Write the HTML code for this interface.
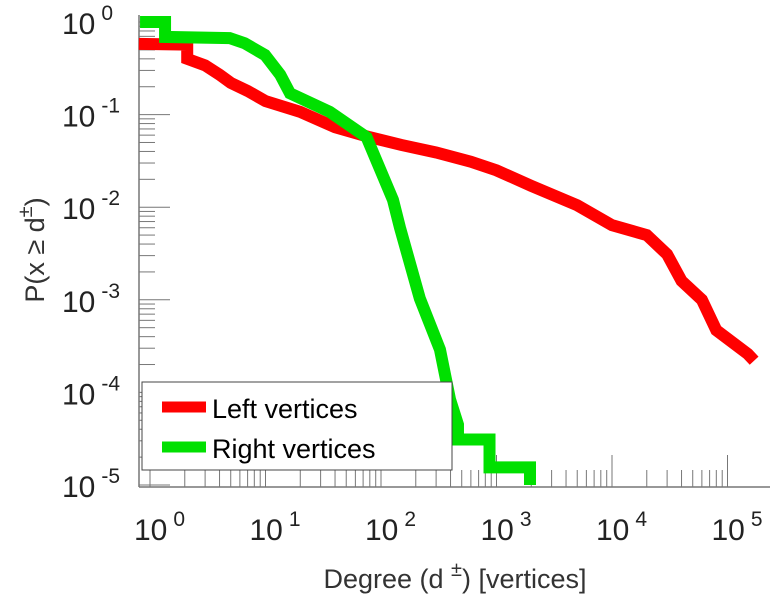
<!DOCTYPE html>
<html><head><meta charset="utf-8"><style>
body{margin:0;background:#fff;}
svg{display:block;font-family:"Liberation Sans",sans-serif;}
</style></head><body>
<svg id="chart" width="778" height="600" viewBox="0 0 778 600" xmlns="http://www.w3.org/2000/svg">
<g id="axes"></g>
<g id="series"></g>
<g id="legend">
  <rect x="142" y="382" width="310" height="88" fill="#fff" stroke="#444" stroke-width="1"/>
  <line x1="162" y1="407" x2="206" y2="407" stroke="#ff0000" stroke-width="11"/>
  <text x="212" y="418" font-size="27" fill="#000">Left vertices</text>
  <line x1="162" y1="447" x2="206" y2="447" stroke="#00e000" stroke-width="11"/>
  <text x="212" y="458" font-size="27" fill="#000">Right vertices</text>
</g>
<text x="455" y="588" font-size="27" text-anchor="middle" fill="#333">Degree (d <tspan dy="-12" font-size="20">±</tspan><tspan dy="12">) [vertices]</tspan></text>
<text transform="translate(44,250) rotate(-90)" font-size="27" text-anchor="middle" fill="#333">P(x ≥ d<tspan dy="-12" font-size="20">±</tspan><tspan dy="12">)</tspan></text>
</svg>
<script>
const xDecades=[0,1,2,3,4,5];
const yDecades=[0,-1,-2,-3,-4,-5];
const leftDeg=[0.8,2.1,2.1,3,4,5,7,10,20,40,80,150,300,600,1000,2000,5000,10000,20000,30000,40000,60000,80000,150000,170000];
const leftP=[0.58,0.57,0.40,0.34,0.27,0.22,0.18,0.14,0.107,0.073,0.057,0.047,0.039,0.031,0.025,0.017,0.0105,0.0064,0.005,0.0031,0.0016,0.001,0.00047,0.00026,0.00022];
const rightDeg=[0.82,1.35,1.35,4.9,6.6,9.9,13.4,16.3,36,75,127,146,217,324,396,464,464,870,870,1950,1950];
const rightP=[1,1,0.69,0.67,0.59,0.44,0.27,0.17,0.107,0.057,0.012,0.0060,0.00103,0.00029,0.000084,0.000045,0.000031,0.000031,0.0000155,0.0000155,0.00001];
const NS="http://www.w3.org/2000/svg";
function xs(d){return 150+115.5*Math.log10(d);}
function ys(p){return 22-92.6*Math.log10(p);}
const axes=document.getElementById('axes');
function mk(tag,attrs,parent){const e=document.createElementNS(NS,tag);for(const k in attrs)e.setAttribute(k,attrs[k]);parent.appendChild(e);return e;}
const yl=mk('line',{x1:139,y1:15,x2:139,y2:487,stroke:'#777','stroke-width':1.5},axes);


const xl=mk('line',{x1:139,y1:487,x2:770,y2:487,stroke:'#777','stroke-width':1.5},axes);


yDecades.forEach(e=>{
  const y=ys(Math.pow(10,e));
  const t=mk('line',{x1:139,y1:y,x2:170,y2:y,stroke:'#777','stroke-width':1},axes);
  
  
  if(e>-5){for(let m=2;m<10;m++){const ym=ys(m*Math.pow(10,e-1));const mt=mk('line',{x1:139,y1:ym,x2:155,y2:ym,stroke:'#777','stroke-width':1},axes);
    
    }}
  const tx=mk('text',{x:62,y:y+12,'font-size':30,fill:'#222'},axes);
  
  
  tx.textContent='10';
  const sp=mk('tspan',{dx:6,dy:-14,'font-size':21},tx);sp.textContent=e===0?'0':'-'+Math.abs(e);
});
xDecades.forEach(e=>{
  const x=xs(Math.pow(10,e));
  const t=mk('line',{x1:x,y1:487,x2:x,y2:455,stroke:'#777','stroke-width':1},axes);
  
  
  if(e<5){for(let m=2;m<10;m++){const xm=xs(m*Math.pow(10,e));const mt=mk('line',{x1:xm,y1:487,x2:xm,y2:470,stroke:'#777','stroke-width':1},axes);
    
    }}
  const tx=mk('text',{x:x-16,y:540,'font-size':30,fill:'#222'},axes);
  
  
  tx.textContent='10';
  const sp=mk('tspan',{dx:6,dy:-14,'font-size':21},tx);sp.textContent=String(e);
});
const series=document.getElementById('series');
function poly(deg,p,color,name){
  let d='M'+xs(deg[0])+','+ys(p[0]);
  for(let i=1;i<deg.length;i++){d+=' L'+xs(deg[i])+','+ys(p[i]);}
  const path=mk('path',{d:d,fill:'none',stroke:color,'stroke-width':12,'stroke-linejoin':'miter'},series);
  
  
}
poly(leftDeg,leftP,'#ff0000','left-vertices-line');
poly(rightDeg,rightP,'#00e000','right-vertices-line');
</script>
</body></html>
